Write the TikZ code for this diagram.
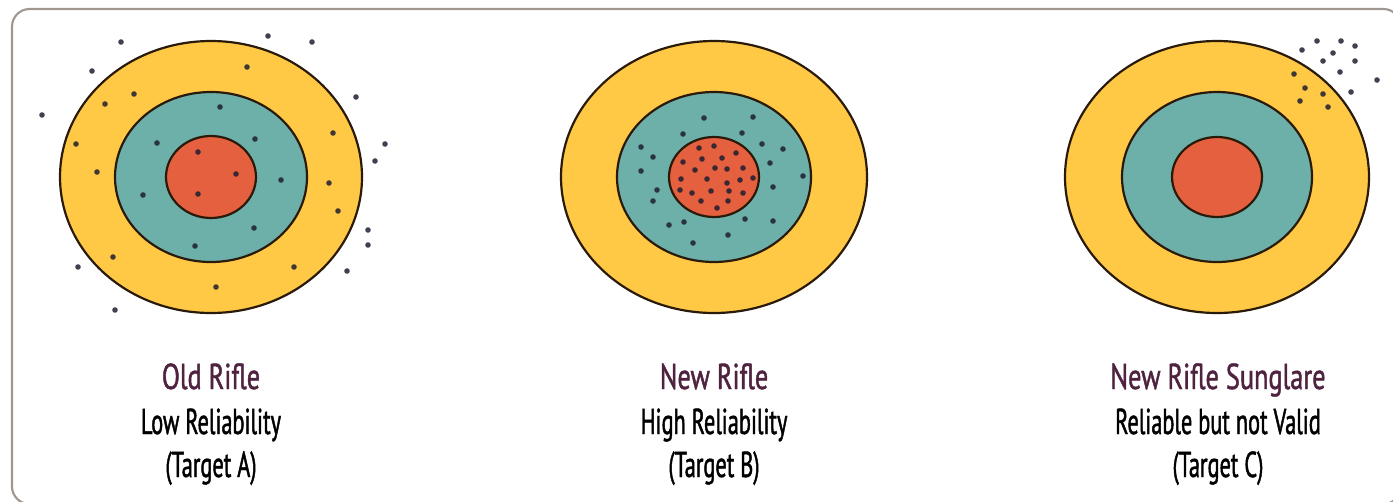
\documentclass[tikz,border=0pt]{standalone}
\usepackage{fontspec}
\setmainfont{PT Sans}[FakeStretch=0.62, FakeBold=1.2]
\newfontfamily\titlefont{PT Sans}[FakeStretch=0.73, FakeBold=1.2]
\usepackage{tikz}
\usetikzlibrary{positioning}
\definecolor{ringyellow}{HTML}{FFC845}
\definecolor{ringteal}{HTML}{6DAFA9}
\definecolor{ringred}{HTML}{E5603E}
\definecolor{ringline}{HTML}{2A1A0A}
\definecolor{shotink}{HTML}{1E1E32}
\definecolor{framegray}{HTML}{A09890}
\definecolor{titleplum}{HTML}{4F2340}
\tikzset{
	outerring/.style={
			fill=ringyellow,
			draw=ringline,
			line width=1.25pt
		},
	middlering/.style={
			outerring,
			fill=ringteal
		},
	innerring/.style={
			outerring,
			fill=ringred
		},
	shot/.style={
			fill=shotink,
			fill opacity=0.85
		},
	titlenode/.style={
			anchor=base,
			inner sep=0pt,
			text=titleplum,
			font=\titlefont\fontsize{20.5}{22}\selectfont
		},
	captionnode/.style={
			anchor=base,
			inner sep=0pt,
			text=black,
			font=\fontsize{20.5}{22}\selectfont
		}
}

\begin{document}
\begin{tikzpicture}[x=0.02cm, y=-0.02cm]
\useasboundingbox (0,0) rectangle (1393,501);
\draw[framegray, line width=1.2pt, rounded corners=10pt] (12,9) rectangle (1401,504);

% target A
\coordinate (cA) at (211,177);
\draw[outerring] (cA) ellipse [x radius=151, y radius=136];
\draw[middlering] (cA) ellipse [x radius=96, y radius=85];
\draw[innerring] (cA) ellipse [x radius=45, y radius=41];
\foreach \px/\py in {121/42, 268/36, 312/42, 92/71, 42/115, 356/97, 385/144, 375/161,
	368/230, 368/245, 347/271, 78/267, 115/310,
	247/67, 134/94, 105/104, 76/144, 97/172, 333/133, 329/183, 338/211, 113/257, 294/267, 216/287,
	220/107, 157/143, 255/139, 281/180, 143/195, 254/228, 195/246,
	198/152, 236/174, 198/194}
	\fill[shot] (\px,\py) circle (2.8);

% target B
\coordinate (cB) at (714,177);
\draw[outerring] (cB) ellipse [x radius=153, y radius=136];
\draw[middlering] (cB) ellipse [x radius=97, y radius=85];
\draw[innerring] (cB) ellipse [x radius=45, y radius=40];
\foreach \px/\py in {704/118, 753/117, 683/134, 742/133, 641/147, 762/144, 783/149, 653/157,
	641/171, 770/163, 803/176, 657/190, 773/187, 653/201, 669/225, 684/222, 745/219, 773/221,
	728/235, 693/243,
	699/148, 714/146, 736/153, 683/162, 702/159, 722/158, 695/170, 715/168, 727/169, 743/168,
	681/179, 707/179, 727/183, 740/180, 753/178, 680/190, 692/193, 711/191, 729/191, 743/193,
	701/201, 728/201, 717/208}
	\fill[shot] (\px,\py) circle (2.8);

% target C
\coordinate (cC) at (1217,177);
\draw[outerring] (cC) ellipse [x radius=152, y radius=136];
\draw[middlering] (cC) ellipse [x radius=95, y radius=85];
\draw[innerring] (cC) ellipse [x radius=45, y radius=40];
\foreach \px/\py in {1317/41, 1341/41, 1355/46, 1302/50, 1333/53, 1323/61, 1355/61, 1340/72,
	1377/80, 1351/92,
	1294/74, 1305/88, 1323/94, 1300/101, 1328/107}
	\fill[shot] (\px,\py) circle (2.8);

% labels
\node[titlenode] (titleA) at (211,389) {Old Rifle};
\node[captionnode] (relA) at (211,434) {Low Reliability};
\node[captionnode] (tgtA) at (211,477) {(Target A)};

\node[titlenode] (titleB) at (714,389) {New Rifle};
\node[captionnode] (relB) at (714,434) {High Reliability};
\node[captionnode] (tgtB) at (714,477) {(Target B)};

\node[titlenode] (titleC) at (1218,389) {New Rifle Sunglare};
\node[captionnode] (relC) at (1218,434) {Reliable but not Valid};
\node[captionnode] (tgtC) at (1218,477) {(Target C)};
\end{tikzpicture}
\end{document}
